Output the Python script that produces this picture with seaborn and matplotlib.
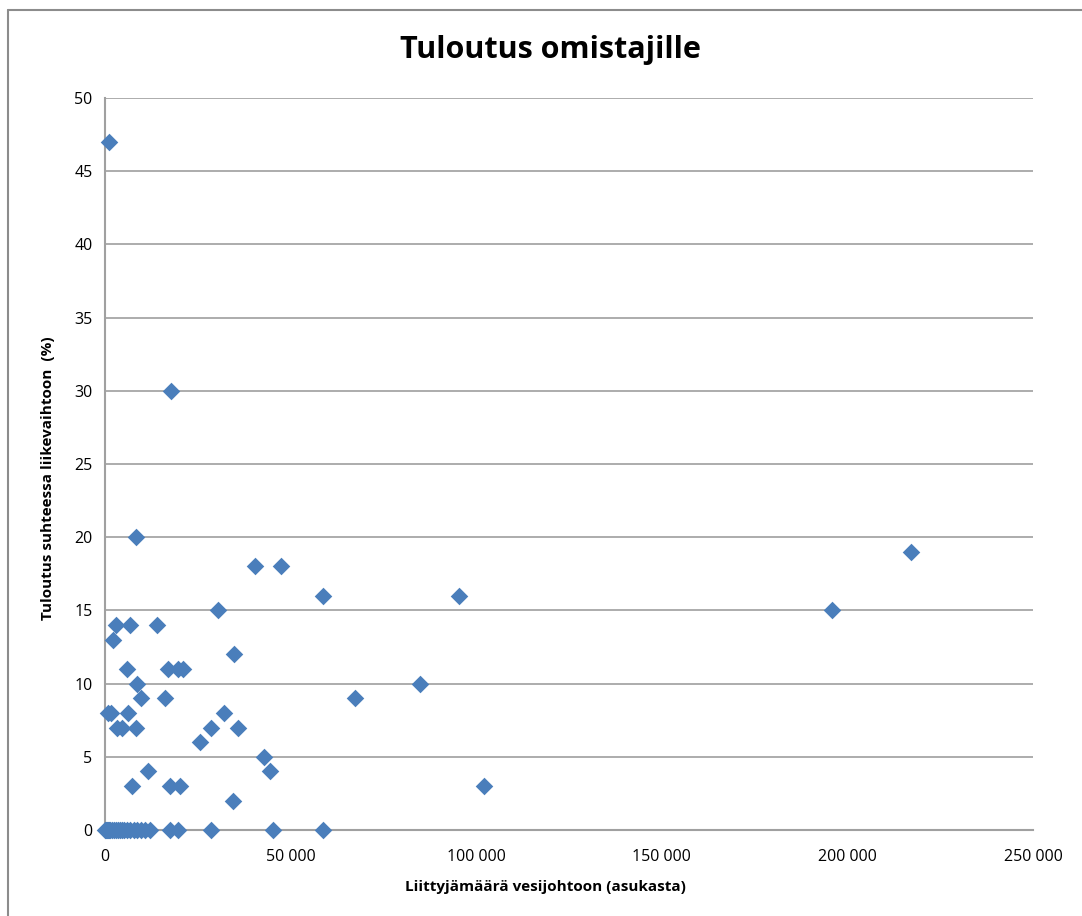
import matplotlib
matplotlib.use("Agg")
import matplotlib.pyplot as plt
import seaborn as sns
import pandas as pd
from matplotlib.lines import Line2D
from matplotlib.ticker import FuncFormatter

# Data: connected population (asukasta) vs. return to owners (% of turnover)
liittyjat = [
    1000, 17800, 8400, 217000, 40400, 47400, 195800, 58700, 95400, 30400,
    14000, 3000, 6700, 2200, 34800, 5900, 17000, 19700, 21000,
    8600, 84900, 9700, 16200, 67300, 800, 1600, 6200, 32000,
    3200, 4600, 8400, 28500, 35800, 25600, 42800, 11600, 44400,
    7300, 17500, 20200, 102100, 34500,
    0, 270, 540, 810, 1080, 1350, 1900, 2400, 3000, 3500, 4000, 4600, 5100,
    5900, 6700, 7800, 8600, 9700, 10800, 12100, 17500, 19700, 28600, 45300, 58700,
]
tuloutus = [
    47, 30, 20, 19, 18, 18, 15, 16, 16, 15,
    14, 14, 14, 13, 12, 11, 11, 11, 11,
    10, 10, 9, 9, 9, 8, 8, 8, 8,
    7, 7, 7, 7, 7, 6, 5, 4, 4,
    3, 3, 3, 3, 2,
    0, 0, 0, 0, 0, 0, 0, 0, 0, 0, 0, 0, 0,
    0, 0, 0, 0, 0, 0, 0, 0, 0, 0, 0, 0,
]
x_ticks = [0, 50000, 100000, 150000, 200000, 250000]
y_ticks = [0, 5, 10, 15, 20, 25, 30, 35, 40, 45, 50]

title = "Tuloutus omistajille"
x_label = "Liittyjämäärä vesijohtoon (asukasta)"
y_label = "Tuloutus suhteessa liikevaihtoon  (%)"

df = pd.DataFrame({"x": liittyjat, "y": tuloutus})

sns.set_style("white")
plt.rcParams["font.family"] = ["Open Sans", "DejaVu Sans"]
plt.rcParams["text.color"] = "black"
plt.rcParams["xtick.color"] = "black"
plt.rcParams["ytick.color"] = "black"
plt.rcParams["axes.labelcolor"] = "black"

fig = plt.figure(figsize=(10.82, 9.16), dpi=100)
ax = fig.add_axes([105 / 1082, 1 - 830 / 916, (1033 - 105) / 1082, (830 - 98) / 916])

ax.set_xlim(0, 250000)
ax.set_ylim(0, 50)
ax.set_xticks(x_ticks)
ax.set_yticks(y_ticks)
ax.xaxis.set_major_formatter(FuncFormatter(lambda v, p: f"{int(v):,}".replace(",", " ")))
ax.grid(axis="y", color="#a6a6a6", linewidth=1.3)
ax.grid(axis="x", visible=False)
ax.set_axisbelow(True)

sns.scatterplot(data=df, x="x", y="y", ax=ax, marker="D", s=80,
                color="#4a7ebb", edgecolor="#4a7ebb", linewidth=0, zorder=3,
                clip_on=False)

for side in ["top", "right"]:
    ax.spines[side].set_visible(False)
for side in ["left", "bottom"]:
    ax.spines[side].set_color("#a0a0a0")
    ax.spines[side].set_linewidth(1.5)

ax.tick_params(axis="y", length=5, color="#a0a0a0", width=1.3, direction="out",
               labelsize=11.5, pad=4, labelcolor="black")
ax.tick_params(axis="x", length=0, labelsize=11.5, pad=14, labelcolor="black")

ax.set_xlabel(x_label, fontsize=11, fontweight="bold", labelpad=12)
ax.set_ylabel(y_label, fontsize=11, fontweight="bold", labelpad=18)
ax.xaxis.set_label_coords((545 - 105) / 928, -(880 - 830) / 732)
ax.yaxis.set_label_coords(-(105 - 55) / 928, (830 - 478) / 732)
fig.text(550 / 1082, 1 - 50 / 916, title, fontsize=22, fontweight="bold",
         ha="center", va="center")

# chart border (top and left)
fig.add_artist(Line2D([8 / 1082, 1], [1 - 9.5 / 916, 1 - 9.5 / 916],
                      transform=fig.transFigure, color="#8c8c8c", linewidth=1.5))
fig.add_artist(Line2D([8 / 1082, 8 / 1082], [0, 1 - 9.5 / 916],
                      transform=fig.transFigure, color="#8c8c8c", linewidth=1.5))

fig.savefig("out.png", dpi=100, facecolor="white")
